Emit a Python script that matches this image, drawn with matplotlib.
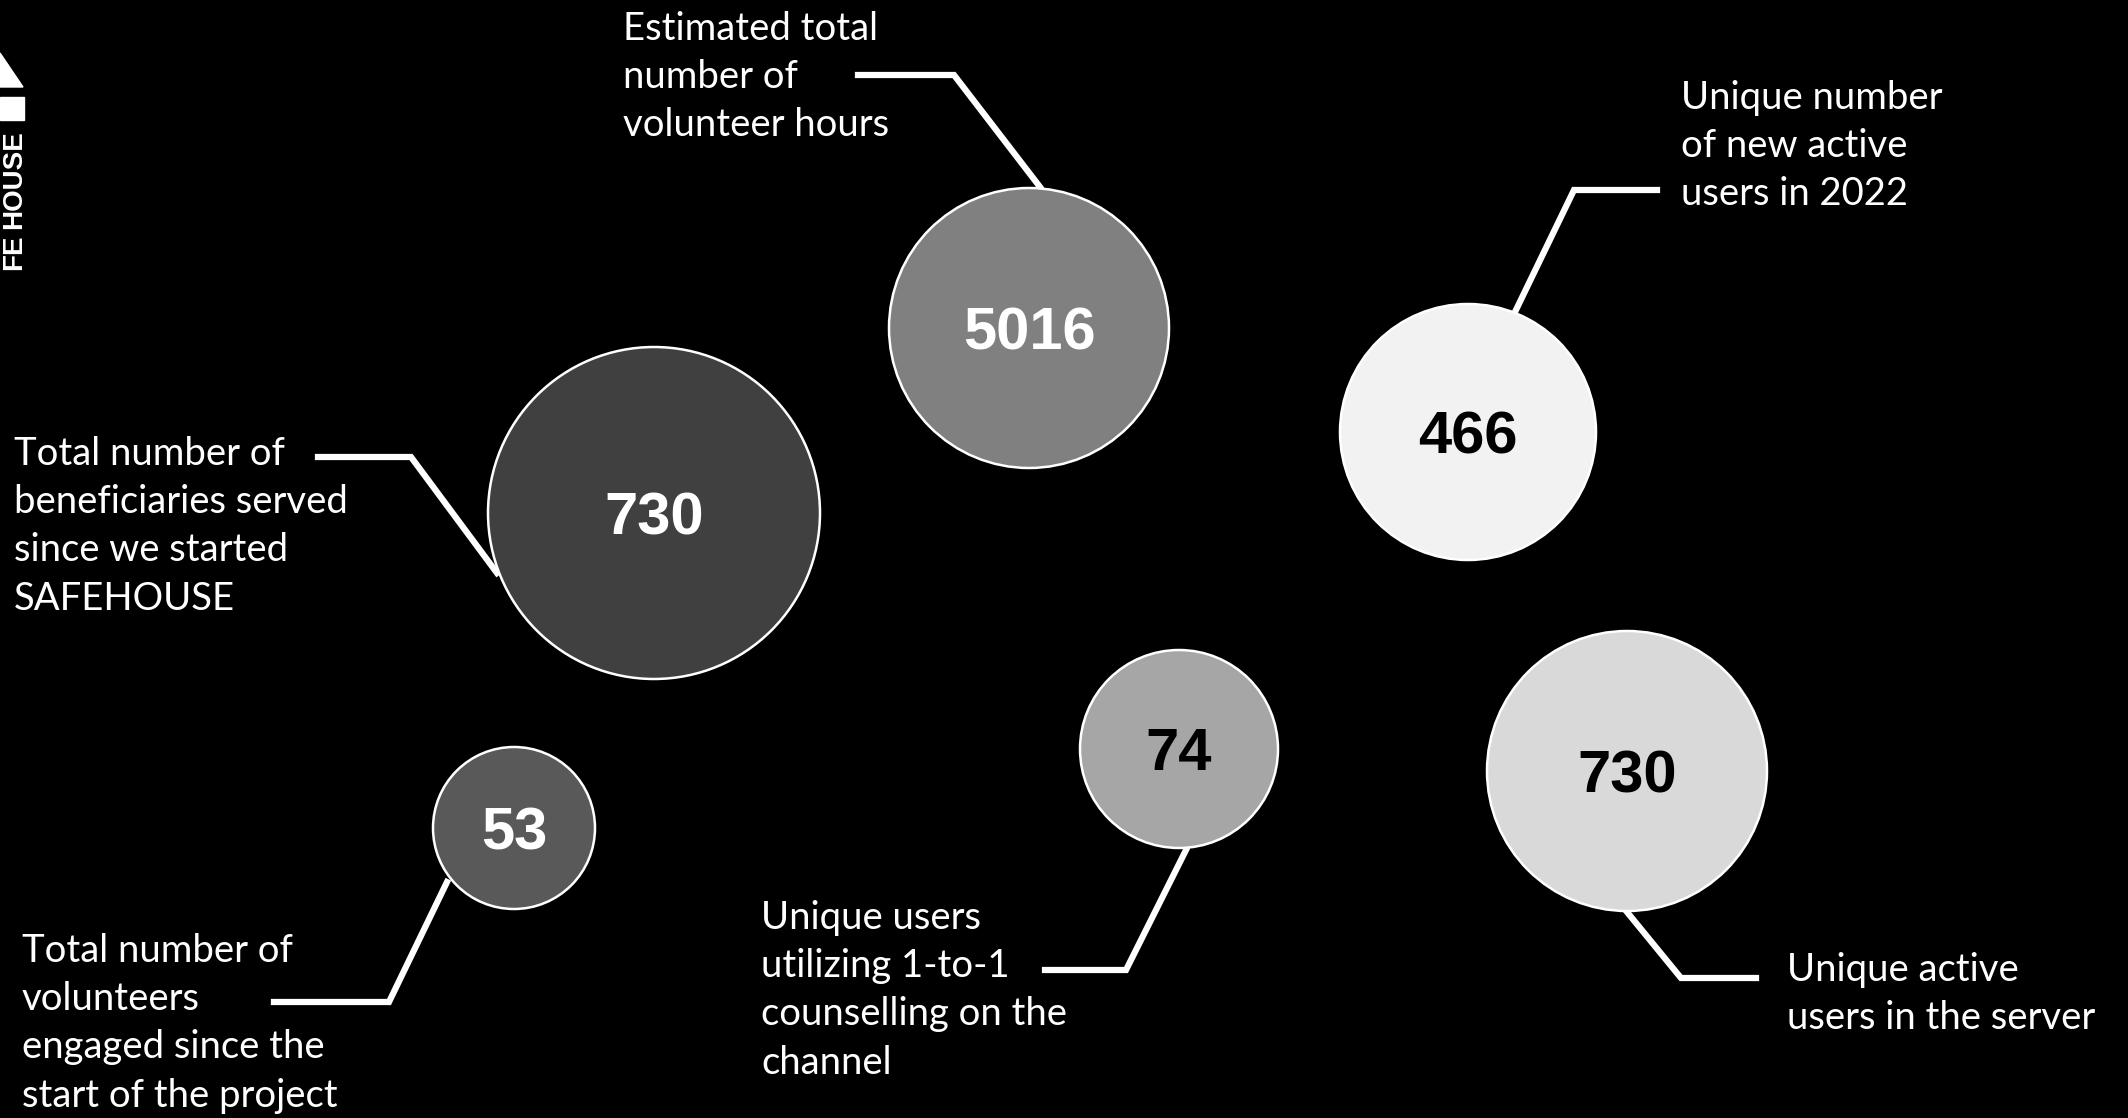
import matplotlib
matplotlib.use("Agg")
import matplotlib.pyplot as plt
from matplotlib.patches import Circle, Polygon, Rectangle

# data
values = [5016, 730, 466, 53, 74, 730]
labels = [
    "Estimated total\nnumber of\nvolunteer hours",
    "Total number of\nbeneficiaries served\nsince we started\nSAFEHOUSE",
    "Unique number\nof new active\nusers in 2022",
    "Total number of\nvolunteers\nengaged since the\nstart of the project",
    "Unique users\nutilizing 1-to-1\ncounselling on the\nchannel",
    "Unique active\nusers in the server",
]

# layout (pixel space, y down)
centers = [(1029, 328), (654, 513), (1468, 432), (514, 828), (1179, 749), (1627, 771)]
radii = [140, 166, 128, 81, 99, 140]
fills = ["#808080", "#404040", "#f2f2f2", "#595959", "#a6a6a6", "#d9d9d9"]
num_colors = ["white", "white", "black", "white", "black", "black"]
label_pos = [(623, 11), (14, 436), (1681, 80), (22, 933), (761, 900), (1787, 952)]
leaders = [
    [(858, 75), (954, 75), (1040, 187)],
    [(318, 457), (411, 457), (497, 573)],
    [(1657, 190), (1574, 190), (1515, 312)],
    [(274, 1002), (389, 1002), (447, 882)],
    [(1045, 970), (1126, 970), (1186, 850)],
    [(1627, 912), (1681, 978), (1756, 978)],
]

W, H = 2128, 1118
fig = plt.figure(figsize=(W / 100, H / 100), dpi=100, facecolor="black")
ax = fig.add_axes([0, 0, 1, 1])
ax.set_facecolor("black")
ax.set_xlim(0, W)
ax.set_ylim(H, 0)
ax.set_aspect("equal")
ax.axis("off")

for pts in leaders:
    xs, ys = zip(*pts)
    ax.plot(xs, ys, color="white", lw=4.5, solid_joinstyle="miter", zorder=1)

for (cx, cy), r, fc, nc, v in zip(centers, radii, fills, num_colors, values):
    ax.add_patch(Circle((cx, cy), r, facecolor=fc, edgecolor="white", lw=1.8, zorder=2))
    ax.text(cx, cy, str(v), ha="center", va="center_baseline", color=nc, fontsize=43,
            fontweight="bold", family="Liberation Sans", zorder=3)

for (x, y), lab in zip(label_pos, labels):
    ax.text(x, y, lab, ha="left", va="top", color="white", fontsize=27.5,
            family="Lato", linespacing=1.42)

# logo on the left edge
ax.add_patch(Polygon([(0, 53), (23, 87), (0, 87)], closed=True, color="white"))
ax.add_patch(Rectangle((0, 97), 24, 23, color="white"))
ax.text(14, 180, "HOUSE", rotation=90, ha="center", va="center", color="white",
        fontsize=20, fontweight="bold", family="Liberation Sans")
ax.text(14, 252, "FE", rotation=90, ha="center", va="center", color="white",
        fontsize=20, fontweight="bold", family="Liberation Sans")

fig.savefig("out.png", dpi=100, facecolor="black")
